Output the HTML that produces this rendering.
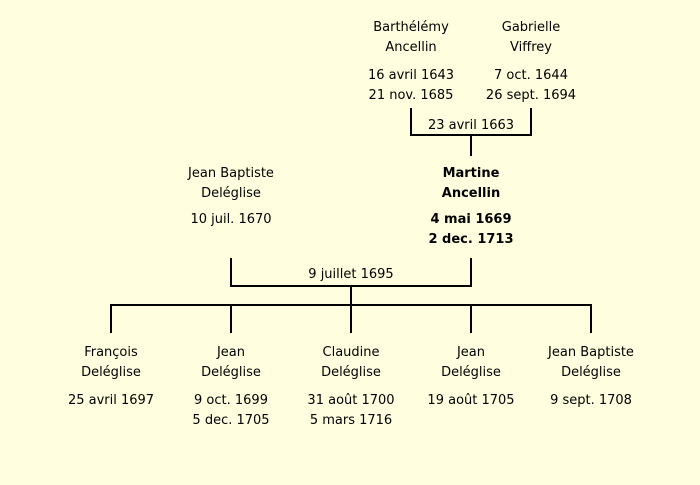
<!DOCTYPE html>
<html><head><meta charset="utf-8"><style>
html,body{margin:0;padding:0;}
body{width:700px;height:485px;background:#ffffe0;position:relative;overflow:hidden;font-family:"DejaVu Sans","Liberation Sans",sans-serif;font-size:13px;color:#000;}
.t{position:absolute;width:160px;margin-left:-80px;text-align:center;line-height:20px;white-space:nowrap;}
.b{font-weight:bold;}
.l{position:absolute;background:#000;}
</style></head><body>
<div class="t" style="left:411px;top:18px">Barthélémy<br>Ancellin</div>
<div class="t" style="left:411px;top:66px">16 avril 1643<br>21 nov. 1685</div>
<div class="t" style="left:531px;top:18px">Gabrielle<br>Viffrey</div>
<div class="t" style="left:531px;top:66px">7 oct. 1644<br>26 sept. 1694</div>
<div class="l" style="left:410px;top:108px;width:2px;height:28px"></div>
<div class="l" style="left:530px;top:108px;width:2px;height:28px"></div>
<div class="l" style="left:410px;top:134px;width:122px;height:2px"></div>
<div class="t" style="left:471px;top:116px">23 avril 1663</div>
<div class="l" style="left:470px;top:134px;width:2px;height:22px"></div>

<div class="t" style="left:231px;top:164px">Jean Baptiste<br>Deléglise</div>
<div class="t" style="left:231px;top:210px">10 juil. 1670</div>
<div class="t b" style="left:471px;top:164px">Martine<br>Ancellin</div>
<div class="t b" style="left:471px;top:210px">4 mai 1669<br>2 dec. 1713</div>

<div class="l" style="left:230px;top:258px;width:2px;height:29px"></div>
<div class="l" style="left:470px;top:258px;width:2px;height:29px"></div>
<div class="l" style="left:230px;top:285px;width:242px;height:2px"></div>
<div class="t" style="left:351px;top:265px">9 juillet 1695</div>
<div class="l" style="left:350px;top:285px;width:2px;height:21px"></div>
<div class="l" style="left:110px;top:304px;width:482px;height:2px"></div>
<div class="l" style="left:110px;top:304px;width:2px;height:29px"></div>
<div class="l" style="left:230px;top:304px;width:2px;height:29px"></div>
<div class="l" style="left:350px;top:304px;width:2px;height:29px"></div>
<div class="l" style="left:470px;top:304px;width:2px;height:29px"></div>
<div class="l" style="left:590px;top:304px;width:2px;height:29px"></div>

<div class="t" style="left:111px;top:343px">François<br>Deléglise</div>
<div class="t" style="left:111px;top:391px">25 avril 1697</div>
<div class="t" style="left:231px;top:343px">Jean<br>Deléglise</div>
<div class="t" style="left:231px;top:391px">9 oct. 1699<br>5 dec. 1705</div>
<div class="t" style="left:351px;top:343px">Claudine<br>Deléglise</div>
<div class="t" style="left:351px;top:391px">31 août 1700<br>5 mars 1716</div>
<div class="t" style="left:471px;top:343px">Jean<br>Deléglise</div>
<div class="t" style="left:471px;top:391px">19 août 1705</div>
<div class="t" style="left:591px;top:343px">Jean Baptiste<br>Deléglise</div>
<div class="t" style="left:591px;top:391px">9 sept. 1708</div>
</body></html>
